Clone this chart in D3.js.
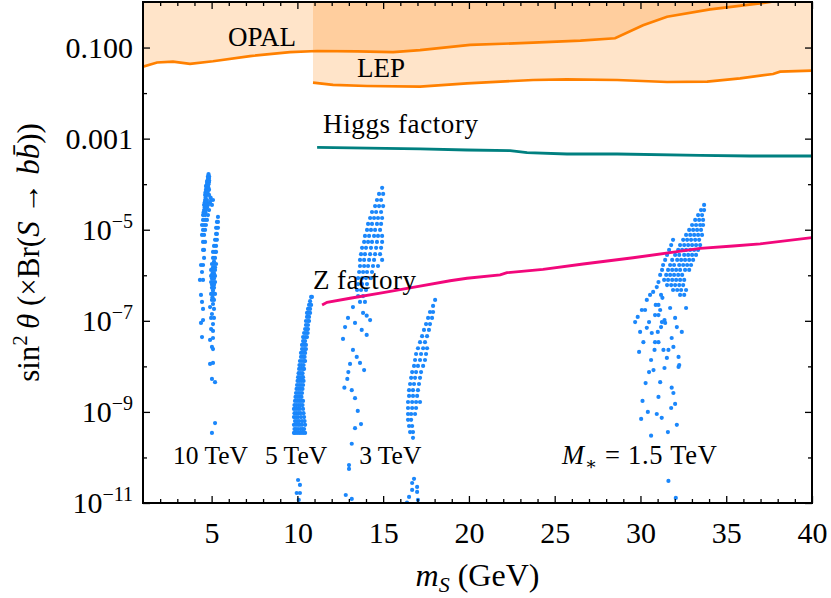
<!DOCTYPE html>
<html><head><meta charset="utf-8">
<script src="https://cdn.jsdelivr.net/npm/d3@7"></script>
<style>
body{margin:0;background:#fff}
svg{display:block}
text{font-family:"Liberation Serif","DejaVu Serif",serif;fill:#000}
</style>
</head><body>
<svg id="chart" width="831" height="598"></svg>
<script>
// ---------------- data ----------------
const xMajorTicks = [5,10,15,20,25,30,35,40];
const xMinorTicks = [2,3,4,6,7,8,9,11,12,13,14,16,17,18,19,21,22,23,24,26,27,28,29,31,32,33,34,36,37,38,39];
const yMajorTicks = [1e-1,1e-3,1e-5,1e-7,1e-9,1e-11];
const yMinorTicks = [1e-2,1e-4,1e-6,1e-8,1e-10];
const yTickBase = ["0.100","0.001","10","10","10","10"];
const yTickExp  = ["","","\u22125","\u22127","\u22129","\u221211"];

const opalMass  = [1.0,1.82,2.75,3.74,5.08,7.24,9.57,11.15,13.5,15.58,17.15,20.07,23.74,26.5,28.52,30.15,31.55,34.06,35.4,37.56,38.5];
const opalLimit = [0.038,0.047,0.049,0.044,0.050,0.065,0.079,0.084,0.082,0.079,0.088,0.114,0.128,0.142,0.160,0.31,0.475,0.69,0.79,1.0,1.15];

const lepMass  = [10.91,12.08,14.06,17.15,19.89,23.74,25.72,28.64,31.55,33.89,35.81,37.73,38.14,40];
const lepLimit = [0.0169,0.0151,0.0143,0.0138,0.0164,0.0194,0.0201,0.0194,0.0175,0.0178,0.0211,0.0263,0.0295,0.031];

const higgsMass  = [11.15,17.15,19.89,22.4,23.39,25.72,28.64,33.48,36.4,40];
const higgsLimit = [6.45e-4,5.93e-4,5.63e-4,5.43e-4,4.92e-4,4.6e-4,4.6e-4,4.31e-4,4.16e-4,4.16e-4];

const zMass  = [11.44,11.73,13.07,15.0,16.98,18.9,19.89,21.82,22.22,24.32,26.66,29.57,32.14,33.48,35.4,36.98,40];
const zLimit = [2.23e-7,2.55e-7,3.13e-7,4.15e-7,5.62e-7,7.6e-7,8.6e-7,1.02e-6,1.14e-6,1.35e-6,1.77e-6,2.43e-6,3.3e-6,3.9e-6,4.4e-6,4.9e-6,6.7e-6];

// scan points: [value, [masses at that value]]
const scan10TeV = [
 [1.67e-4,[4.82]],[1.5e-4,[4.79,4.85]],[1.37e-4,[4.79,4.85]],[1.22e-4,[4.76,4.85]],[1.12e-4,[4.73,4.85]],
 [1.0e-4,[4.73,4.82]],[9.1e-5,[4.67,4.79]],[8.2e-5,[4.7,4.82]],[7.5e-5,[4.67,4.79,4.85]],[6.6e-5,[4.64,4.76]],
 [5.8e-5,[4.62,4.73,4.85]],[5.1e-5,[4.65,4.94]],[4.5e-5,[4.62,4.73,4.97,5.08]],[4.0e-5,[4.6,4.7,4.9]],
 [3.5e-5,[4.56,4.67,4.79,5.02]],[3.1e-5,[4.6,4.73]],[2.7e-5,[4.56,4.67,4.85]],[2.4e-5,[4.53,4.64]],
 [2.1e-5,[4.5,4.62,4.79]],[1.91e-5,[5.37]],[1.64e-5,[4.5,4.62,4.73]],[1.48e-5,[5.31,5.37]],
 [1.27e-5,[4.44,4.56,4.67]],[1.1e-5,[5.26,5.37]],[9.9e-6,[4.5,4.62]],[8.1e-6,[5.26,5.31]],
 [7.7e-6,[4.44,4.56]],[6.0e-6,[5.2,5.31]],[5.4e-6,[4.5,4.62]],[4.4e-6,[5.14,5.26]],[3.6e-6,[4.5,4.56]],
 [3.25e-6,[5.08,5.2,5.26]],[2.4e-6,[4.56,5.08,5.2]],[2.0e-6,[5.14]],[1.77e-6,[5.02,5.14,5.26]],[1.68e-6,[4.38,4.5]],
 [1.5e-6,[5.08,5.2]],[1.31e-6,[4.97,5.08,5.2]],[1.18e-6,[4.44]],[1.1e-6,[5.05,5.14]],[9.7e-7,[4.97,5.08,5.2]],
 [8.5e-7,[5.02,5.14]],[7.9e-7,[4.32,4.5]],[7.1e-7,[4.97,5.08,5.2]],[6.2e-7,[5.02,5.14]],[5.3e-7,[5.02,5.14]],
 [4.6e-7,[5.08]],[3.9e-7,[4.97,5.08,5.2]],[3.7e-7,[4.38]],[3.3e-7,[5.05]],[2.87e-7,[5.02,5.14]],[2.6e-7,[4.44]],
 [2.34e-7,[5.08]],[2.0e-7,[4.91]],[1.82e-7,[4.5,5.14]],[1.41e-7,[5.02]],[1.16e-7,[4.97,5.14]],[1.04e-7,[4.5]],
 [9.0e-8,[4.38]],[8.5e-8,[5.08]],[6.6e-8,[4.97]],[6.0e-8,[5.08]],[4.4e-8,[4.44]],[4.2e-8,[5.08]],[3.8e-8,[4.91]],
 [2.67e-8,[5.02]],[2.4e-8,[5.08]],[1.19e-8,[5.08]],[1.13e-8,[4.91]],[5.3e-9,[5.02]],[4.5e-9,[5.2]],
 [5.7e-10,[5.2]],[3.45e-10,[5.02]]
];
const scan5TeV = [
 [3.34e-7,[10.8,10.85]],[2.7e-7,[10.74]],[2.23e-7,[10.68,10.8]],[1.82e-7,[10.62,10.74]],[1.49e-7,[10.56,10.62,10.74]],
 [1.22e-7,[10.56,10.68]],[9.9e-8,[10.5,10.62,10.68]],[8.1e-8,[10.5,10.62]],[6.6e-8,[10.45,10.56,10.62]],
 [5.4e-8,[10.39,10.5,10.6]],[4.4e-8,[10.33,10.45,10.56]],[3.6e-8,[10.33,10.45]],[2.95e-8,[10.27,10.39,10.5]],
 [2.4e-8,[10.27,10.39,10.5]],[1.97e-8,[10.21,10.33,10.45]],[1.61e-8,[10.21,10.33,10.42]],
 [1.31e-8,[10.15,10.27,10.39,10.45]],[1.07e-8,[10.12,10.24,10.36]],[8.8e-9,[10.1,10.21,10.33,10.39]],
 [7.1e-9,[10.07,10.18,10.3]],[5.8e-9,[10.04,10.15,10.27,10.33]],[4.8e-9,[10.01,10.12,10.24,10.36]],
 [3.9e-9,[9.98,10.1,10.21,10.33]],[3.2e-9,[9.95,10.07,10.18,10.3]],[2.6e-9,[9.92,10.04,10.15,10.27]],
 [2.13e-9,[9.89,10.01,10.12,10.24]],[1.74e-9,[9.86,9.98,10.1,10.21,10.33]],[1.41e-9,[9.83,9.95,10.07,10.18,10.3]],
 [1.16e-9,[9.8,9.92,10.04,10.15,10.33]],[9.4e-10,[9.83,9.95,10.07,10.18,10.36]],[7.7e-10,[9.8,9.92,10.04,10.21,10.39]],
 [6.3e-10,[9.86,9.98,10.1,10.27,10.42]],[5.2e-10,[9.8,9.92,10.04,10.15,10.27,10.45]],
 [4.2e-10,[9.83,9.92,10.04,10.18,10.3,10.39]],[3.45e-10,[9.8,9.86,9.98,10.1,10.21,10.33,10.45]],
 [3.2e-11,[10.04]],[2.5e-11,[10.15]],[1.66e-11,[9.96,10.15]],[1.17e-11,[10.08]]
];
const scan3TeVa = [
 [8.3e-5,[14.94]],[6.1e-5,[14.76,15.0]],[4.5e-5,[14.64,14.88]],[3.3e-5,[14.53,14.76,15.0]],
 [2.45e-5,[14.35,14.59,14.88]],[1.81e-5,[14.24,14.47,14.7,14.94]],[1.34e-5,[14.12,14.35,14.64,14.88]],
 [9.9e-6,[14.06,14.29,14.53,14.82]],[7.3e-6,[13.94,14.18,14.47,14.7,14.94]],[5.4e-6,[13.89,14.12,14.35,14.64,14.94]],
 [4.0e-6,[13.77,14.0,14.29,14.59,14.88]],[2.9e-6,[13.71,13.94,14.24,14.53,14.82]],[2.17e-6,[13.65,13.89,14.18,14.47,14.94]],
 [1.6e-6,[13.65,13.89,14.12,14.41,14.7]],[1.18e-6,[13.6,13.83,14.06,14.35]],[8.7e-7,[13.54,13.77,14.0,14.29]],
 [6.4e-7,[13.54,13.77,14.06]],[4.75e-7,[13.48,13.71,14.0]],[3.5e-7,[13.54,13.83]],[2.6e-7,[13.65,13.94]],
 [2.0e-7,[13.24]],[1.49e-7,[13.83]],[1.3e-7,[14.04]],[1.16e-7,[12.95]],[1.04e-7,[14.24]],[9.0e-8,[13.36]],
 [7.3e-8,[12.78]],[6.3e-8,[13.75]],[4.9e-8,[14.04]],[4.0e-8,[12.66]],[2.29e-8,[13.24]],[1.61e-8,[13.46]],
 [1.19e-8,[13.65]],[1.13e-8,[13.07]],[8.3e-9,[13.89]],[7.5e-9,[12.97]],[5.3e-9,[12.91]],[3.4e-9,[12.74]],
 [3.0e-9,[13.17]],[2.0e-9,[13.36]],[1.05e-9,[13.52]],[5.4e-10,[13.71]],[4.4e-10,[13.36]],[2.0e-10,[13.17]],
 [6.8e-11,[13.01]],[5.6e-11,[13.01]],[1.5e-11,[12.82]],[1.23e-11,[13.17]]
];
const scan3TeVb = [
 [2.87e-7,[18.03]],[2.12e-7,[17.91]],[1.56e-7,[17.73,17.91]],[1.16e-7,[17.62,17.85]],[8.5e-8,[17.5,17.73]],
 [6.3e-8,[17.38,17.67]],[4.6e-8,[17.27,17.56]],[3.4e-8,[17.15,17.44]],[2.5e-8,[17.03,17.33,17.56]],
 [1.87e-8,[16.92,17.21,17.5]],[1.38e-8,[16.86,17.15,17.44]],[1.02e-8,[16.8,17.03,17.33]],[7.5e-9,[16.69,16.92,17.21]],
 [5.6e-9,[16.63,16.86,17.15]],[4.1e-9,[16.57,16.8,17.09]],[3.0e-9,[16.51,16.74,17.03]],[2.24e-9,[16.51,16.74,16.98]],
 [1.65e-9,[16.45,16.69,16.92,17.15]],[1.22e-9,[16.45,16.69,16.92]],[9.0e-10,[16.45,16.63,16.86]],
 [6.7e-10,[16.45,16.63]],[4.9e-10,[16.51,16.69]],[3.6e-10,[16.57,16.74]],[2.7e-10,[16.74]],
 [3.4e-11,[16.8]],[2.75e-11,[16.69]],[2.25e-11,[16.98]],[1.94e-11,[16.69]],[1.75e-11,[16.98]],
 [1.36e-11,[16.51]],[1.17e-11,[17.03]],[1.02e-11,[16.39]]
];
const scan1p5TeV = [
 [3.5e-5,[33.71]],[2.7e-5,[33.53,33.71]],[2.1e-5,[33.36,33.59]],[1.64e-5,[33.19,33.42,33.65]],
 [1.27e-5,[33.01,33.24,33.48,33.65]],[9.9e-6,[32.84,33.07,33.3,33.53]],[7.7e-6,[32.66,32.9,33.13,33.36,33.59]],
 [6.0e-6,[31.9,32.49,32.72,32.95,33.19,33.42]],[4.6e-6,[31.79,32.31,32.55,32.78,33.01,33.24,33.48]],
 [3.6e-6,[31.67,32.2,32.43,32.66,32.9,33.13,33.36]],[2.8e-6,[31.55,32.02,32.26,32.55,32.78,33.01,33.24]],
 [2.17e-6,[31.44,31.85,32.14,32.37,32.6,32.84,33.07]],[1.68e-6,[31.32,31.73,31.96,32.26,32.49,32.72,32.95]],
 [1.31e-6,[31.26,31.61,31.85,32.08,32.31,32.6,32.84]],[1.02e-6,[31.15,31.5,31.73,31.96,32.2,32.43]],
 [7.9e-7,[31.38,31.61,31.85,32.08,32.31,32.55]],[6.1e-7,[31.55,31.79,32.02,32.26,32.49]],
 [4.75e-7,[31.9,32.14,32.37,32.66]],[3.7e-7,[32.31,32.55]]
];
const scan1p5TeVSparse = [
 [29.69,9.4e-8],[29.84,1.22e-7],[30.08,1.73e-7],[30.27,1.73e-7],[30.37,2.87e-7],[30.56,3.7e-7],[30.74,4.3e-7],
 [30.95,5.5e-7],[31.05,7.1e-7],[29.98,5.7e-8],[30.17,3.4e-8],[29.92,2.07e-8],[30.37,7.0e-8],[30.5,9.4e-8],
 [30.66,5.4e-8],[30.85,3.4e-8],[30.89,2.23e-7],[31.05,2.23e-7],[31.2,3.7e-7],[31.28,3.2e-7],[30.85,1.34e-7],
 [31.05,1.34e-7],[31.15,1.73e-7],[31.25,9.4e-8],[31.4,1.04e-7],[31.44,9.0e-8],[31.2,7.3e-8],[31.01,5.7e-8],
 [31.05,3.4e-8],[31.73,1.91e-7],[32.02,1.16e-7],[32.12,7.3e-8],[32.41,5.7e-8],[31.82,4.2e-8],[31.92,2.67e-8],
 [31.63,2.29e-8],[31.34,2.29e-8],[30.82,2.29e-8],[30.62,1.38e-8],[30.5,7.5e-9],[30.76,8.3e-9],[31.4,9.2e-9],
 [31.54,1.53e-8],[32.22,1.61e-8],[32.22,9.7e-9],[30.3,4.3e-9],[31.15,4.5e-9],[31.82,3.4e-9],[31.92,2.6e-9],
 [31.05,2.13e-9],[32.02,1.5e-9],[30.12,1.74e-9],[30.43,1.0e-9],[30.04,7.0e-10],[30.95,9.0e-10],[31.24,7.4e-10],
 [31.79,1.22e-9],[32.12,5.2e-10],[31.6,3.6e-10],[30.62,3.0e-10],[31.63,3.05e-11],[32.06,1.29e-11],
 [32.66,1.91e-7],[32.26,1.07e-8]
];

// ---------------- drawing ----------------
const W = 831, H = 598;
const L = 143, R = 812, T = 2, B = 503;
const svg = d3.select("#chart");
const x = d3.scaleLinear().domain([1,40]).range([L,R]);
const y = d3.scaleLog().domain([1e-11,1]).range([B,T]);

svg.append("defs").append("clipPath").attr("id","plotclip")
  .append("rect").attr("x",L).attr("y",T).attr("width",R-L).attr("height",B-T);
const plot = svg.append("g").attr("clip-path","url(#plotclip)");

const zip = (a,b) => a.map((d,i)=>[d,b[i]]);
const opal = zip(opalMass, opalLimit);
const lep = zip(lepMass, lepLimit);
const higgs = zip(higgsMass, higgsLimit);
const zf = zip(zMass, zLimit);

const topArea = d3.area().x(d=>x(d[0])).y0(T-20).y1(d=>y(d[1]));
const line = d3.line().x(d=>x(d[0])).y(d=>y(d[1]));

plot.append("path").datum(opal).attr("d",topArea).attr("fill","rgba(255,128,0,0.21)");
plot.append("path").datum(lep).attr("d",topArea).attr("fill","rgba(255,128,0,0.21)");

// scatter
const flatten = rows => rows.flatMap(([v,ms]) => ms.map(m => [m,v]));
const pts = [].concat(flatten(scan10TeV), flatten(scan5TeV), flatten(scan3TeVa), flatten(scan3TeVb),
                      flatten(scan1p5TeV), scan1p5TeVSparse);
plot.append("g").selectAll("circle").data(pts).join("circle")
  .attr("cx",d=>x(d[0])).attr("cy",d=>y(d[1])).attr("r",2.1).attr("fill","#1b87fb");

plot.append("path").datum(opal).attr("d",line).attr("fill","none").attr("stroke","#ff8000").attr("stroke-width",2.7);
plot.append("path").datum(lep).attr("d",line).attr("fill","none").attr("stroke","#ff8000").attr("stroke-width",2.7);
plot.append("path").datum(higgs).attr("d",line).attr("fill","none").attr("stroke","#008080").attr("stroke-width",2.8);
plot.append("path").datum(zf).attr("d",line).attr("fill","none").attr("stroke","#f2077b").attr("stroke-width",2.9);

// annotations
const ann = svg.append("g").attr("font-size",27);
ann.append("text").attr("x",x(5.96)).attr("y",y(0.108)).text("OPAL");
ann.append("text").attr("x",x(13.48)).attr("y",y(0.0226)).text("LEP");
ann.append("text").attr("x",x(11.5)).attr("y",y(1.33e-3)).attr("letter-spacing",0.6).text("Higgs factory");
ann.append("text").attr("x",x(10.91)).attr("y",y(5.0e-7)).attr("letter-spacing",0.4).text("Z factory");
const ann2 = svg.append("g").attr("font-size",25.5);
ann2.append("text").attr("x",x(2.75)).attr("y",y(7.2e-11)).text("10 TeV");
ann2.append("text").attr("x",x(8.11)).attr("y",y(7.2e-11)).text("5 TeV");
ann2.append("text").attr("x",x(13.6)).attr("y",y(7.2e-11)).text("3 TeV");
const mt = ann2.append("text").attr("x",x(25.43)).attr("y",y(7.2e-11)).attr("font-size",26.5).attr("letter-spacing",0.7);
mt.append("tspan").attr("font-style","italic").text("M");
mt.append("tspan").attr("font-size",18).attr("dy",6).text("\u2217");
mt.append("tspan").attr("dy",-6).text(" = 1.5 TeV");

// axes
const tickStyle = g => { g.select(".domain").remove(); g.selectAll(".tick line").attr("stroke","#000").attr("stroke-width",1.3); };
svg.append("g").attr("transform",`translate(0,${B})`)
  .call(d3.axisBottom(x).tickValues(xMajorTicks).tickSize(-7).tickPadding(19).tickFormat(d3.format("d")))
  .call(tickStyle)
  .call(g=>g.selectAll("text").attr("font-size",30).attr("font-family","Liberation Serif").attr("fill","#000"));
svg.append("g").attr("transform",`translate(0,${B})`)
  .call(d3.axisBottom(x).tickValues(xMinorTicks).tickSize(-4).tickFormat("")).call(tickStyle);
svg.append("g").attr("transform",`translate(0,${T})`)
  .call(d3.axisTop(x).tickValues(xMajorTicks).tickSize(-7).tickFormat("")).call(tickStyle);
svg.append("g").attr("transform",`translate(0,${T})`)
  .call(d3.axisTop(x).tickValues(xMinorTicks).tickSize(-4).tickFormat("")).call(tickStyle);
svg.append("g").attr("transform",`translate(${L},0)`)
  .call(d3.axisLeft(y).tickValues(yMajorTicks).tickSize(-7).tickFormat("")).call(tickStyle);
svg.append("g").attr("transform",`translate(${L},0)`)
  .call(d3.axisLeft(y).tickValues(yMinorTicks).tickSize(-4).tickFormat("")).call(tickStyle);
svg.append("g").attr("transform",`translate(${R},0)`)
  .call(d3.axisRight(y).tickValues(yMajorTicks).tickSize(-7).tickFormat("")).call(tickStyle);
svg.append("g").attr("transform",`translate(${R},0)`)
  .call(d3.axisRight(y).tickValues(yMinorTicks).tickSize(-4).tickFormat("")).call(tickStyle);

// y tick labels
const yl = svg.append("g").attr("font-size",30).attr("text-anchor","end");
yMajorTicks.forEach((v,i)=>{
  const t = yl.append("text").attr("x",L-10).attr("y",y(v)+10);
  t.append("tspan").text(yTickBase[i]);
  if (yTickExp[i]) t.append("tspan").attr("font-size",20).attr("dy",-12).text(yTickExp[i]);
});

// frame
svg.append("rect").attr("x",L).attr("y",T).attr("width",R-L).attr("height",B-T)
  .attr("fill","none").attr("stroke","#000").attr("stroke-width",2);

// axis labels
const xl = svg.append("text").attr("x",(L+R)/2).attr("y",586).attr("text-anchor","middle").attr("font-size",32);
xl.append("tspan").attr("font-style","italic").text("m");
xl.append("tspan").attr("font-style","italic").attr("font-size",22).attr("dy",6).text("S");
xl.append("tspan").attr("dy",-6).text(" (GeV)");

const ylab = svg.append("text").attr("transform",`translate(39,${(T+B)/2}) rotate(-90)`)
  .attr("text-anchor","middle").attr("font-size",31);
ylab.append("tspan").text("sin");
ylab.append("tspan").attr("font-size",21).attr("dy",-12).text("2");
ylab.append("tspan").attr("dy",12).attr("font-style","italic").text("\u2009\u03b8");
ylab.append("tspan").text(" (\u00d7Br(");
ylab.append("tspan").attr("font-style","italic").text("S");
ylab.append("tspan").text(" \u2192 ");
ylab.append("tspan").attr("font-style","italic").text("bb\u0304");
ylab.append("tspan").text("))");
</script>
</body></html>
